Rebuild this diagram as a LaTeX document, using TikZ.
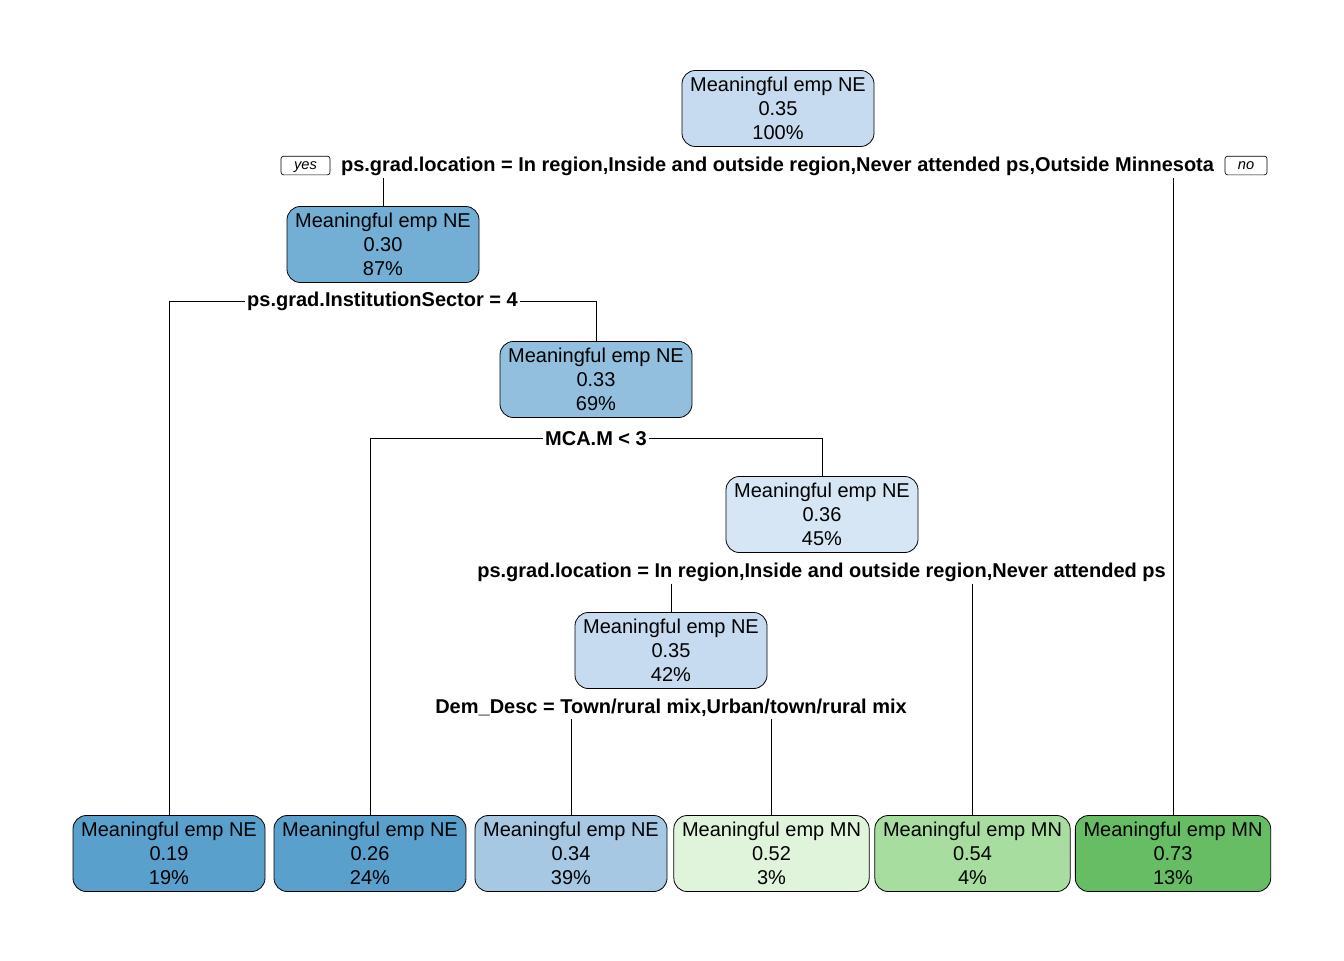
\documentclass[tikz,border=0pt]{standalone}
\usepackage{fontspec}
\setmainfont{Liberation Sans}
\definecolor{cRoot}{HTML}{C6DBEF}
\definecolor{cA}{HTML}{73AED4}
\definecolor{cB}{HTML}{91BFDD}
\definecolor{cC}{HTML}{D6E6F4}
\definecolor{cL}{HTML}{5AA0CD}
\definecolor{cLthree}{HTML}{A6C8E3}
\definecolor{cGone}{HTML}{E0F3DB}
\definecolor{cGtwo}{HTML}{A8DDA0}
\definecolor{cGthree}{HTML}{66BD63}
\begin{document}
\begin{tikzpicture}[x=0.75pt,y=-0.75pt,
 tnode/.style={draw=black, line width=0.6pt, rounded corners=10pt, minimum width=144pt, minimum height=57pt, inner sep=0pt, align=center, font=\fontsize{15}{18}\selectfont},
 wnode/.style={tnode, minimum width=146.5pt},
 slabel/.style={font=\bfseries\fontsize{15}{18}\selectfont, inner sep=1.5pt},
 edge/.style={draw=black, line width=0.6pt},
 yn/.style={draw, line width=0.5pt, rounded corners=2pt, font=\itshape\fontsize{11}{12}\selectfont, minimum height=14pt, inner xsep=0pt, inner ysep=0pt, text height=8pt, text depth=2.3pt}]
\useasboundingbox (0,0) rectangle (1344,960);

% internal nodes
\node[tnode, fill=cRoot] (root) at (778,108.5) {Meaningful emp NE\\0.35\\100\%};
\node[tnode, fill=cA] (n2) at (383,244.5) {Meaningful emp NE\\0.30\\87\%};
\node[tnode, fill=cB] (n3) at (596,379.5) {Meaningful emp NE\\0.33\\69\%};
\node[tnode, fill=cC] (n4) at (822,514.5) {Meaningful emp NE\\0.36\\45\%};
\node[tnode, fill=cRoot] (n5) at (671,650.5) {Meaningful emp NE\\0.35\\42\%};

% leaves
\node[tnode, fill=cL] (l1) at (169,853.5) {Meaningful emp NE\\0.19\\19\%};
\node[tnode, fill=cL] (l2) at (370,853.5) {Meaningful emp NE\\0.26\\24\%};
\node[tnode, fill=cLthree] (l3) at (571,853.5) {Meaningful emp NE\\0.34\\39\%};
\node[wnode, fill=cGone] (l4) at (771.5,853.5) {Meaningful emp MN\\0.52\\3\%};
\node[wnode, fill=cGtwo] (l5) at (972.5,853.5) {Meaningful emp MN\\0.54\\4\%};
\node[wnode, fill=cGthree] (l6) at (1173,853.5) {Meaningful emp MN\\0.73\\13\%};

% split labels
\node[slabel] (s1) at (777.5,166.5) {ps.grad.location = In region,Inside and outside region,Never attended ps,Outside Minnesota};
\node[slabel] (s2) at (382.5,301.5) {ps.grad.InstitutionSector = 4};
\node[slabel] (s3) at (596,438.5) {MCA.M < 3};
\node[slabel] (s4) at (821.5,572.5) {ps.grad.location = In region,Inside and outside region,Never attended ps};
\node[slabel] (s5) at (671,707.5) {Dem\_Desc = Town/rural mix,Urban/town/rural mix};

\node[yn, minimum width=36.75pt] (yes) at (305.5,165.5) {yes};
\node[yn, minimum width=31.5pt] (no) at (1246,165.5) {no};

% connectors
\draw[edge] (n2.north) -- (n2.north |- s1.south);
\draw[edge] (l6.north) -- (l6.north |- s1.south);

\draw[edge] (s2.west) -| (l1.north);
\draw[edge] (s2.east) -| (n3.north);

\draw[edge] (s3.west) -| (l2.north);
\draw[edge] (s3.east) -| (n4.north);

\draw[edge] (n5.north) -- (n5.north |- s4.south);
\draw[edge] (l5.north) -- (l5.north |- s4.south);

\draw[edge] (l3.north) -- (l3.north |- s5.south);
\draw[edge] (l4.north) -- (l4.north |- s5.south);
\end{tikzpicture}
\end{document}
